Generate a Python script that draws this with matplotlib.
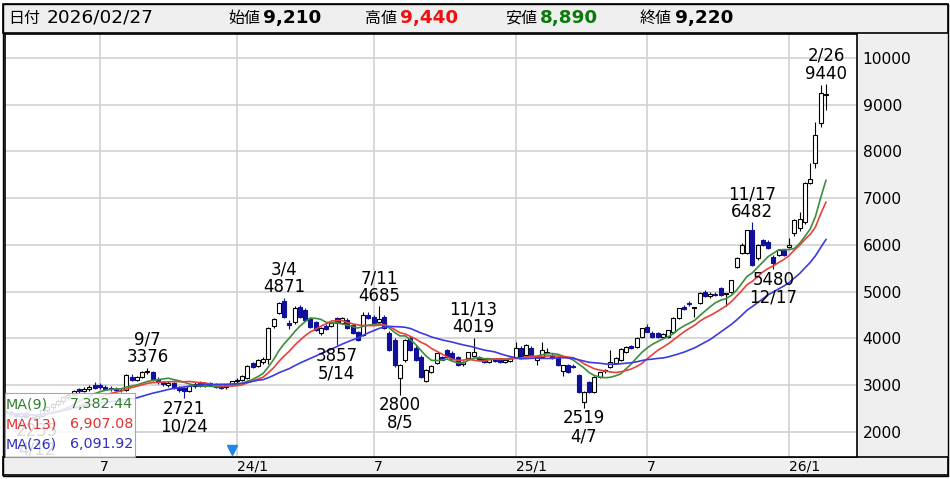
"""Weekly candlestick chart with 9/13/26-week moving averages (Japanese stock quote style)."""

import matplotlib

matplotlib.use("Agg")

import matplotlib.patches as mpatches
import matplotlib.pyplot as plt
import numpy as np
import pandas as pd

plt.rcParams["font.family"] = ["DejaVu Sans", "Noto Sans CJK JP"]

# ---------------------------------------------------------------- data
week_start = "2023-02-27"

opens = [
    2450, 2420, 2380, 2340, 2400, 2330, 2300, 2350, 2460, 2530,
    2590, 2660, 2740, 2800, 2920, 2880, 2930, 3000, 3010, 2960,
    2940, 2910, 2890, 2900, 3180, 3120, 3170, 3290, 3280, 3130,
    3060, 3000, 3050, 2950, 2950, 2880, 2980, 3040, 2990, 3040,
    3010, 2960, 2960, 3000, 3080, 3120, 3160, 3470, 3410, 3500,
    3560, 4270, 4540, 4800, 4330, 4350, 4670, 4620, 4440, 4350,
    4120, 4270, 4270, 4440, 4330, 4400, 4290, 4140, 4075, 4500,
    4460, 4350, 4460, 4120, 3970, 3155, 3540, 4010, 3800, 3600,
    3080, 3290, 3480, 3600, 3750, 3700, 3600, 3450, 3580, 3620,
    3600, 3560, 3500, 3560, 3540, 3500, 3520, 3600, 3800, 3650,
    3800, 3540, 3600, 3700, 3650, 3580, 3300, 3430, 3420, 3220,
    2650, 3070, 2860, 3170, 3300, 3390, 3480, 3540, 3710, 3840,
    3820, 4030, 4250, 4120, 4110, 4030, 4040, 4130, 4440, 4680,
    4760, 4650, 4760, 5000, 4910, 4950, 5080, 4950, 4990, 5530,
    5830, 5830, 6320, 5720, 6100, 6060, 5745, 5790, 5890, 5960,
    6260, 6360, 6490, 7330, 7750, 8610, 9210,
]
highs = [
    2520, 2480, 2430, 2420, 2450, 2380, 2360, 2480, 2560, 2620,
    2700, 2780, 2830, 2900, 2950, 2960, 3000, 3060, 3050, 3000,
    2990, 2960, 2940, 3240, 3230, 3200, 3300, 3376, 3300, 3170,
    3100, 3080, 3070, 2990, 2970, 3000, 3060, 3080, 3060, 3070,
    3040, 3000, 3020, 3100, 3150, 3220, 3440, 3500, 3560, 3600,
    4240, 4440, 4780, 4871, 4400, 4700, 4720, 4660, 4470, 4380,
    4240, 4300, 4360, 4470, 4460, 4430, 4310, 4160, 4560, 4560,
    4500, 4685, 4500, 4150, 4000, 3450, 3990, 4050, 3850, 3640,
    3340, 3440, 3700, 3620, 3780, 3730, 3620, 3520, 3720, 4019,
    3630, 3590, 3580, 3590, 3570, 3560, 3600, 3930, 3830, 3880,
    3830, 3620, 3930, 3790, 3680, 3610, 3440, 3460, 3450, 3240,
    2870, 3100, 3190, 3290, 3350, 3750, 3600, 3800, 3830, 3870,
    4030, 4230, 4300, 4150, 4140, 4110, 4190, 4450, 4660, 4720,
    4800, 4680, 4990, 5030, 4990, 5000, 5100, 4980, 5260, 5750,
    6050, 6330, 6482, 6020, 6130, 6100, 5780, 5900, 5920, 6150,
    6560, 6700, 7350, 7750, 8620, 9420, 9440,
]
lows = [
    2380, 2350, 2300, 2280, 2310, 2260, 2235, 2330, 2420, 2480,
    2550, 2600, 2680, 2760, 2840, 2850, 2880, 2920, 2930, 2900,
    2880, 2860, 2850, 2880, 3080, 3090, 3150, 3250, 3100, 3020,
    2980, 2960, 2920, 2860, 2721, 2850, 2940, 2970, 2960, 2980,
    2940, 2920, 2930, 2980, 3040, 3100, 3140, 3370, 3390, 3460,
    3450, 4230, 4520, 4440, 4200, 4300, 4430, 4380, 4230, 4160,
    4080, 4180, 4240, 3857, 4300, 4200, 4100, 3950, 4050, 4420,
    4310, 4320, 4200, 3730, 3400, 2800, 3500, 3740, 3520, 3150,
    3060, 3270, 3450, 3530, 3580, 3540, 3420, 3420, 3560, 3600,
    3530, 3470, 3480, 3490, 3480, 3470, 3500, 3580, 3580, 3620,
    3600, 3430, 3580, 3680, 3570, 3420, 3200, 3270, 3370, 2840,
    2519, 2840, 2840, 3150, 3260, 3370, 3460, 3520, 3690, 3780,
    3800, 4000, 4130, 4010, 4010, 4000, 4020, 4110, 4420, 4620,
    4700, 4460, 4740, 4880, 4870, 4900, 4900, 4700, 4970, 5500,
    5800, 5800, 5550, 5680, 5980, 5920, 5480, 5760, 5760, 5940,
    6200, 6300, 6450, 7300, 7650, 8520, 8890,
]
closes = [
    2420, 2380, 2340, 2400, 2330, 2300, 2350, 2460, 2530, 2590,
    2660, 2740, 2800, 2870, 2880, 2930, 2960, 2950, 2960, 2930,
    2910, 2890, 2900, 3220, 3120, 3170, 3280, 3300, 3130, 3060,
    3020, 3050, 2950, 2900, 2870, 2980, 3030, 2990, 3040, 3000,
    2960, 2950, 3000, 3080, 3120, 3190, 3420, 3400, 3530, 3570,
    4220, 4420, 4760, 4470, 4290, 4650, 4460, 4400, 4250, 4180,
    4220, 4200, 4330, 4330, 4440, 4225, 4120, 3970, 4500, 4440,
    4330, 4420, 4225, 3755, 3430, 3430, 3970, 3760, 3540, 3180,
    3320, 3420, 3690, 3550, 3600, 3560, 3440, 3500, 3710, 3710,
    3550, 3490, 3560, 3510, 3500, 3540, 3580, 3800, 3600, 3850,
    3620, 3600, 3760, 3720, 3580, 3440, 3430, 3290, 3390, 2860,
    2850, 2860, 3170, 3280, 3320, 3500, 3580, 3780, 3820, 3800,
    4010, 4220, 4140, 4030, 4030, 4090, 4180, 4440, 4650, 4640,
    4740, 4660, 4970, 4900, 4950, 4940, 4920, 4960, 5250, 5720,
    6000, 6320, 5570, 6000, 6000, 5940, 5620, 5890, 5780, 6000,
    6530, 6560, 7330, 7420, 8350, 9250, 9220,
]

ma_periods = [9, 13, 26]
ma_values_text = ["7,382.44", "6,907.08", "6,091.92"]

# labelled swing highs / lows: (shown date, actual trading day)
high_marks = [
    ("9/7", "2023-09-07"), ("3/4", "2024-03-04"), ("7/11", "2024-07-11"),
    ("11/13", "2024-11-13"), ("11/17", "2025-11-17"), ("2/26", "2026-02-26"),
]
low_marks = [
    ("4/12", "2023-04-12"), ("10/24", "2023-10-24"), ("5/14", "2024-05-14"),
    ("8/5", "2024-08-05"), ("4/7", "2025-04-07"), ("12/17", "2025-12-17"),
]

tick_weeks = ["2023-07-03", "2024-01-01", "2024-07-01", "2025-01-06", "2025-06-30", "2026-01-05"]
tick_labels = ["7", "24/1", "7", "25/1", "7", "26/1"]
event_weeks = ["2023-12-25"]

header_date = "2026/02/27"
header_open, header_high, header_low, header_close = "9,210", "9,440", "8,890", "9,220"

# ---------------------------------------------------------------- style
W, H = 950, 479
UP_EDGE = "black"
DOWN_COLOR = "#10109a"
MA_COLORS = ["#3a8f3a", "#e8413a", "#3b3be0"]
MA_TEXT_COLORS = ["#2f7f2f", "#e03232", "#3030c0"]
PANEL_GRAY = "#efefef"
GRID_GRAY = "#d4d4d4"


def fx(px):
    return px / W


def fy(py):
    return 1 - py / H


def week_index(dates, day):
    """Index of the weekly candle whose week contains ``day``."""
    d = pd.Timestamp(day)
    return int(np.searchsorted(dates.values, d.to_datetime64(), side="right") - 1)


dates = pd.date_range(week_start, periods=len(closes), freq="W-MON")
o = np.array(opens, float)
h = np.array(highs, float)
lo = np.array(lows, float)
c = np.array(closes, float)
idx = np.arange(len(c))
up = c >= o

fig = plt.figure(figsize=(W / 100, H / 100), dpi=100)
ax = fig.add_axes([fx(5), fy(457), fx(857) - fx(5), (457 - 34) / H])

# wicks
ax.vlines(idx[up], lo[up], h[up], color=UP_EDGE, lw=0.8, zorder=2)
ax.vlines(idx[~up], lo[~up], h[~up], color=DOWN_COLOR, lw=0.8, zorder=2)

# bodies (tiny minimum height so dojis stay visible)
body_lo = np.minimum(o, c)
body_h = np.maximum(np.abs(c - o), 18)
ax.bar(idx[up], body_h[up], bottom=body_lo[up], width=0.76,
       facecolor="white", edgecolor=UP_EDGE, linewidth=0.8, zorder=3)
ax.bar(idx[~up], body_h[~up], bottom=body_lo[~up], width=0.76,
       facecolor=DOWN_COLOR, edgecolor=DOWN_COLOR, linewidth=0.8, zorder=3)

# moving averages
close_s = pd.Series(c)
for period, color in zip(ma_periods, MA_COLORS):
    ma = close_s.rolling(period, min_periods=1).mean()
    ax.plot(idx, ma, color=color, lw=1.2, zorder=4)

# swing labels
for lbl, day in high_marks:
    i = week_index(dates, day)
    ax.annotate(f"{lbl}\n{int(h[i])}", (i, h[i]), xytext=(0, 1), textcoords="offset points",
                ha="center", va="bottom", fontsize=12, linespacing=1.0, zorder=5)
for lbl, day in low_marks:
    i = week_index(dates, day)
    ax.annotate(f"{int(lo[i])}\n{lbl}", (i, lo[i]), xytext=(0, -1), textcoords="offset points",
                ha="center", va="top", fontsize=12, linespacing=1.0, zorder=5)

# event marker at the bottom edge
for day in event_weeks:
    i = week_index(dates, day)
    ax.plot(i, (457 - 450) / 423, marker="v", ms=7, color="#1e88e5",
            transform=ax.get_xaxis_transform(), clip_on=False, zorder=6)

# axes, grid, ticks
ax.set_xlim(-0.06, 161.9)
ax.set_ylim(1465, 10513)
ax.set_yticks(range(2000, 10001, 1000))
ax.yaxis.tick_right()
ax.tick_params(axis="y", length=0, pad=4, labelsize=11.2)
for t in ax.get_yticklabels():
    t.set_horizontalalignment("left")
tick_pos = [week_index(dates, d) for d in tick_weeks]
ax.set_xticks(tick_pos)
ax.set_xticklabels(tick_labels, ha="left")
ax.tick_params(axis="x", length=0, pad=2, labelsize=10)
ax.grid(True, color=GRID_GRAY, lw=1.3, zorder=0)
ax.set_axisbelow(True)
for sp in ax.spines.values():
    sp.set_color("black")
    sp.set_linewidth(1.2)

# header band, right price panel, bottom date strip, outer frame
fig.patches.append(mpatches.Rectangle((fx(3), fy(33)), 945 / W, 29 / H, transform=fig.transFigure,
                                      facecolor=PANEL_GRAY, edgecolor="black", lw=1.2, zorder=-1))
fig.patches.append(mpatches.Rectangle((fx(857), fy(457)), 91 / W, 423 / H, transform=fig.transFigure,
                                      facecolor=PANEL_GRAY, edgecolor="none", zorder=-1))
fig.patches.append(mpatches.Rectangle((fx(3), fy(475)), 945 / W, 18 / H, transform=fig.transFigure,
                                      facecolor=PANEL_GRAY, edgecolor="black", lw=1.2, zorder=-1))
fig.patches.append(mpatches.Rectangle((fx(3), fy(476)), 945 / W, 472 / H, transform=fig.transFigure,
                                      fill=False, edgecolor="black", lw=1.0, zorder=-1))

hy = fy(18)
fig.text(fx(8), hy, "日付", fontsize=11.5, va="center")
fig.text(fx(47), hy, header_date, fontsize=13.3, va="center")
for x_lbl, label, value, color in [
    (228, "始値", header_open, "black"),
    (365, "高値", header_high, "#f01010"),
    (505, "安値", header_low, "#0a7a0a"),
    (640, "終値", header_close, "black"),
]:
    fig.text(fx(x_lbl), hy, label, fontsize=11.5, va="center")
    fig.text(fx(x_lbl + 35), hy, value, fontsize=13.2, va="center", fontweight="bold", color=color)

# moving-average legend box (semi transparent, lower left)
fig.patches.append(mpatches.Rectangle((fx(5), fy(457)), 130 / W, 64 / H, transform=fig.transFigure,
                                      facecolor="white", alpha=0.86, edgecolor="#999999", lw=0.8, zorder=2))
for k, (period, val, color) in enumerate(zip(ma_periods, ma_values_text, MA_TEXT_COLORS)):
    yy = fy(404 + 20 * k)
    fig.text(fx(6), yy, f"MA({period})", color=color, fontsize=10.3, va="center", zorder=3)
    fig.text(fx(133), yy, val, color=color, fontsize=10.3, va="center", ha="right", zorder=3)

fig.savefig("out.png", dpi=100)
